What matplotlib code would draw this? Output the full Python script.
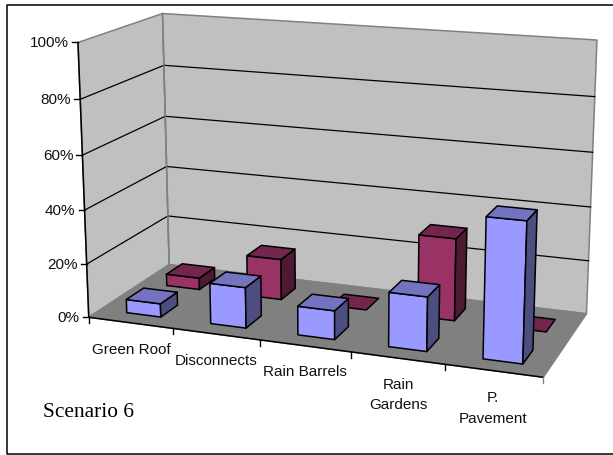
"""3-D style clustered column chart drawn with flat polygons on a pixel-sized axes."""

import matplotlib
matplotlib.use("Agg")
import matplotlib.pyplot as plt
import numpy as np
from matplotlib.patches import Polygon

W, H = 613, 456

categories = ["Green Roof", "Disconnects", "Rain Barrels", "Rain\nGardens", "P.\nPavement"]
front_values = [5, 15, 10.5, 19.5, 49.5]
back_values = [4.5, 15.5, 0, 30.5, 0]
y_ticks = [0, 20, 40, 60, 80, 100]

BLUE = ("#9999ff", "#7373bf", "#4d4d80")
PLUM = ("#993366", "#73264d", "#4d1933")
WALL = "#c0c0c0"
FLOOR = "#808080"
EDGE = "#808080"

# reference corners of the box: (category, depth, percent) -> pixel
CORNERS = [
    ((0, 0, 0), (89, 319)),
    ((0, 0, 100), (78, 43)),
    ((0, 1, 100), (162.5, 15)),
    ((0, 1, 0), (169, 265)),
    ((5, 1, 0), (586.7, 315)),
    ((5, 1, 100), (597, 41)),
    ((5, 0, 0), (543, 378)),
]


def fit_projection(corners):
    rows = []
    for (x, d, z), (u, v) in corners:
        p = [x, d, z, 1]
        rows.append(p + [0, 0, 0, 0] + [-u * c for c in p])
        rows.append([0, 0, 0, 0] + p + [-v * c for c in p])
    return np.linalg.svd(np.array(rows, dtype=float))[2][-1].reshape(3, 4)


P = fit_projection(CORNERS)


def project(x, d, z):
    u, v, w = P @ np.array([x, d, z, 1.0])
    return u / w, v / w


def face(ax, pts, fill, edge="black", lw=1.1, zorder=2):
    ax.add_patch(Polygon([project(*p) for p in pts], closed=True, facecolor=fill,
                         edgecolor=edge, linewidth=lw, joinstyle="round", zorder=zorder))


def draw_bar(ax, x0, x1, d0, d1, value, colors):
    if value > 0:
        face(ax, [(x0, d0, 0), (x1, d0, 0), (x1, d0, value), (x0, d0, value)], colors[0])
        face(ax, [(x1, d0, 0), (x1, d1, 0), (x1, d1, value), (x1, d0, value)], colors[2])
    face(ax, [(x0, d0, value), (x1, d0, value), (x1, d1, value), (x0, d1, value)], colors[1])


def main():
    fig = plt.figure(figsize=(W / 100, H / 100), dpi=100)
    ax = fig.add_axes([0, 0, 1, 1])
    ax.set_xlim(0, W)
    ax.set_ylim(H, 0)
    ax.axis("off")

    # outer frame, open on the right where it runs off the page
    ax.plot([W, 6.5, 6.5, W], [5.5, 5.5, 455, 455], color="black", lw=1.1, zorder=1)

    # walls and floor
    face(ax, [(0, 0, 0), (0, 1, 0), (0, 1, 100), (0, 0, 100)], WALL, edge=EDGE, zorder=1)
    face(ax, [(0, 1, 0), (5, 1, 0), (5, 1, 100), (0, 1, 100)], WALL, edge=EDGE, zorder=1)
    face(ax, [(0, 0, 0), (5, 0, 0), (5, 1, 0), (0, 1, 0)], FLOOR, edge=EDGE, zorder=1.2)

    # gridlines run along the side wall and the back wall
    for t in y_ticks:
        if 0 < t < 100:
            pts = [project(0, 0, t), project(0, 1, t), project(5, 1, t)]
            ax.plot(*zip(*pts), color="black", lw=0.9, zorder=1.1)
        tx, ty = project(0, 0, t)
        ax.plot([tx - 6, tx], [ty, ty], color="black", lw=1.0, zorder=1.5)
        ax.text(tx - 9, ty, f"{t}%", ha="right", va="center", fontsize=11,
                family="Liberation Sans", color="#111111")

    # back corner of the walls stays grey on top of the gridlines
    ax.plot(*zip(project(0, 1, 0), project(0, 1, 100)), color=EDGE, lw=1.1, zorder=1.15)

    # axis lines at the front of the box
    ax.plot(*zip(project(0, 0, 0), project(0, 0, 100)), color="black", lw=1.1, zorder=1.5)
    ax.plot(*zip(project(0, 0, 0), project(5, 0, 0)), color="black", lw=1.1, zorder=1.5)

    width = 0.41
    centre = 0.52
    for i, v in enumerate(back_values):
        draw_bar(ax, i + centre - width / 2, i + centre + width / 2, 0.64, 0.85, v, PLUM)
    for i, v in enumerate(front_values):
        draw_bar(ax, i + centre - width / 2, i + centre + width / 2, 0.14, 0.35, v, BLUE)

    for i in range(len(categories) + 1):
        tx, ty = project(i, 0, 0)
        ax.plot([tx, tx], [ty, ty + 6], color="black" if i < len(categories) else EDGE,
                lw=1.0, zorder=1.5)
    label_pos = [(131.5, 350), (216, 361), (305, 372), (398.5, 395), (493, 408.5)]
    for name, (lx, ly) in zip(categories, label_pos):
        ax.text(lx, ly, name, ha="center", va="center", fontsize=11,
                family="Liberation Sans", color="#111111", linespacing=1.6)

    ax.text(43, 413, "Scenario 6", ha="left", va="center", fontsize=15.4,
            family="Liberation Serif", color="black")

    fig.savefig("out.png", dpi=100, facecolor="white")


if __name__ == "__main__":
    main()
